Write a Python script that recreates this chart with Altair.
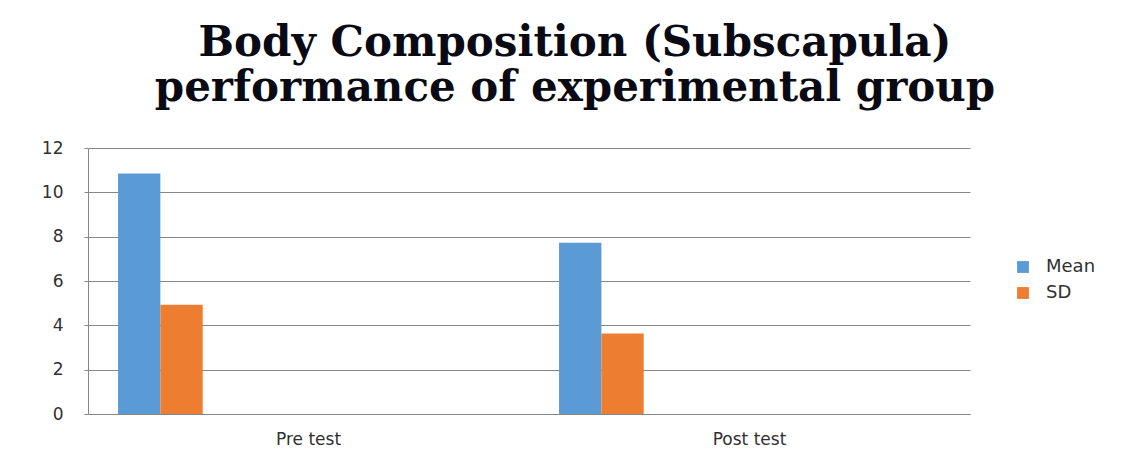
import altair as alt
import pandas as pd

categories = ["Pre test", "Post test"]
series = ["Mean", "SD"]
mean_values = [10.85, 7.73]
sd_values = [4.93, 3.63]
slots = ["Mean", "SD", "s3", "s4", "s5", "s6", "s7", "s8", "s9"]
y_ticks = [0, 2, 4, 6, 8, 10, 12]

rows = []
for c, m, s in zip(categories, mean_values, sd_values):
    rows.append({"Test": c, "Series": "Mean", "Value": m})
    rows.append({"Test": c, "Series": "SD", "Value": s})
df = pd.DataFrame(rows)

label_font = "DejaVu Sans"

chart = alt.Chart(df).mark_bar().encode(
    x=alt.X("Test:N", sort=categories,
            scale=alt.Scale(paddingInner=0, paddingOuter=0),
            axis=alt.Axis(title=None, labelAngle=0, ticks=False, labelPadding=17,
                          domainColor="#868686", labelFont=label_font,
                          labelFontSize=17, labelColor="#303030")),
    xOffset=alt.XOffset("Series:N", scale=alt.Scale(domain=slots, paddingInner=0, paddingOuter=0.71)),
    y=alt.Y("Value:Q", scale=alt.Scale(domain=[0, 12], nice=False),
            axis=alt.Axis(title=None, values=y_ticks, gridColor="#868686", tickColor="#868686",
                          domainColor="#868686", tickSize=4, labelPadding=21,
                          labelFont=label_font, labelFontSize=17, labelColor="#303030")),
    color=alt.Color("Series:N", scale=alt.Scale(domain=series, range=["#5B9BD5", "#ED7D31"]),
                    legend=alt.Legend(title=None, orient="none", legendX=926, legendY=110,
                                      symbolType="square", symbolSize=140, symbolStrokeWidth=0,
                                      labelFont=label_font, labelFontSize=18, labelColor="#303030",
                                      rowPadding=8, labelOffset=14)),
).properties(
    width=882,
    height=266,
    title=alt.TitleParams(
        ["Body Composition (Subscapula)", "performance of experimental group"],
        font="DejaVu Serif", fontSize=42, fontWeight="bold", color="#0a0a14",
        anchor="middle", dx=46, offset=29, lineHeight=45,
    ),
    autosize=alt.AutoSizeParams(type="none"),
    padding={"left": 80, "top": 140, "right": 168, "bottom": 46},
).configure_view(stroke=None).configure_axis(grid=True).configure_axisX(grid=False)

chart.save("out.html", embed_options={"renderer": "svg", "actions": False})
